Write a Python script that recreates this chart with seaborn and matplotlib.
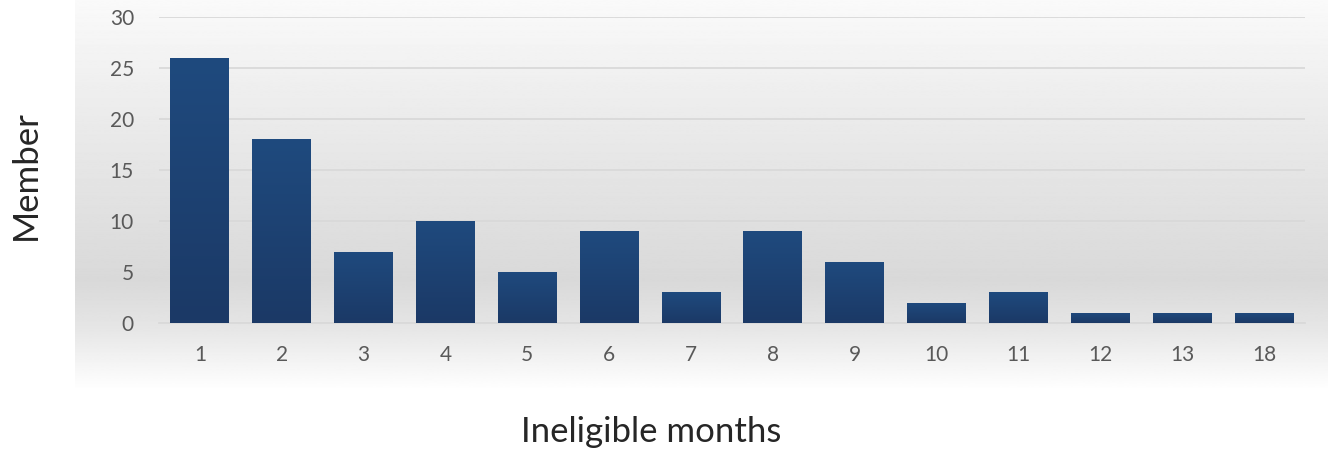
import numpy as np
import seaborn as sns
import matplotlib.pyplot as plt
from matplotlib.colors import LinearSegmentedColormap

months = ["1", "2", "3", "4", "5", "6", "7", "8", "9", "10", "11", "12", "13", "18"]
members = [26, 18, 7, 10, 5, 9, 3, 9, 6, 2, 3, 1, 1, 1]

sns.set_style("white")
plt.rcParams['font.family'] = ['Lato', 'DejaVu Sans']

fig = plt.figure(figsize=(13.28, 4.5), dpi=100)

# grey gradient panel behind the chart
bg = fig.add_axes([75 / 1328, 1 - 390 / 450, 1253 / 1328, 390 / 450], zorder=0)
stops_y = [0.0, 0.25, 0.72, 0.84, 1.0]
stops_v = [0.98, 0.93, 0.85, 0.90, 1.0]
col = np.interp(np.linspace(0, 1, 400), stops_y, stops_v)
bg.imshow(np.repeat(col[:, None], 2, axis=1), cmap="gray", vmin=0, vmax=1,
          aspect="auto", extent=[0, 1, 1, 0])
bg.axis("off")

ax = fig.add_axes([159 / 1328, 1 - 323 / 450, (1305 - 159) / 1328, (323 - 17) / 450], zorder=1)
ax.patch.set_alpha(0)

sns.barplot(x=months, y=members, color="#1E4476", width=0.72, saturation=1,
            linewidth=0, edgecolor="none", ax=ax, zorder=3)

# vertical gradient inside the bars (lighter at top)
grad = np.linspace(0, 1, 100)[:, None]
cm = LinearSegmentedColormap.from_list("bar", ["#1F4A7E", "#1B3966"])
for p in ax.patches:
    x0, y0 = p.get_x(), p.get_y()
    w, h = p.get_width(), p.get_height()
    im = ax.imshow(grad, cmap=cm, aspect="auto", origin="upper",
                   extent=[x0, x0 + w, y0, y0 + h], zorder=4)
    im.set_clip_path(p)

ax.set_xlim(-0.5, len(months) - 0.5)
ax.set_ylim(0, 30)
ax.set_yticks(range(0, 31, 5))
ax.yaxis.grid(True, color="#D9D9D9", linewidth=1.3)
ax.set_axisbelow(True)
for s in ["top", "right", "left"]:
    ax.spines[s].set_visible(False)
ax.spines["bottom"].set_color("#D9D9D9")
ax.spines["bottom"].set_linewidth(1.3)
ax.tick_params(axis="both", length=0, labelsize=15, labelcolor="#595959")
ax.tick_params(axis="x", pad=16)
ax.tick_params(axis="y", pad=18)

ax.set_xlabel("")
ax.set_ylabel("")
fig.text(651 / 1328, 1 - 432 / 450, "Ineligible months", fontsize=25,
         ha="center", va="center")
fig.text(26 / 1328, 1 - 175 / 450, "Member", fontsize=25, rotation=90,
         ha="center", va="center")

fig.savefig("out.png", dpi=100)
